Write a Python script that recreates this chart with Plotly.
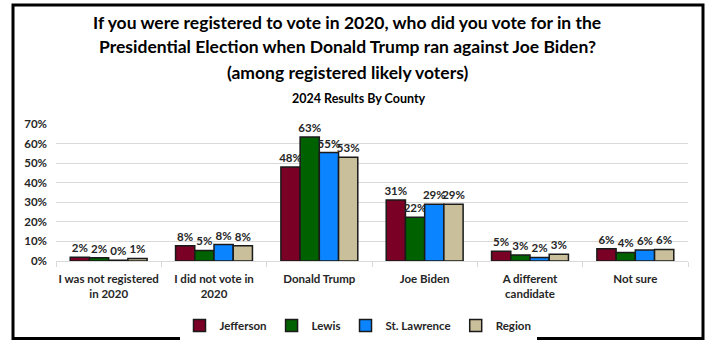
import plotly.graph_objects as go

categories = ["I was not registered<br>in 2020", "I did not vote in<br>2020", "Donald Trump",
              "Joe Biden", "A different<br>candidate", "Not sure"]
series_names = ["Jefferson", "Lewis", "St. Lawrence", "Region"]
jefferson = [1.9, 7.8, 48.0, 31.2, 5.0, 6.2]
lewis = [1.7, 5.4, 63.4, 22.4, 3.1, 4.4]
st_lawrence = [0.4, 8.4, 55.4, 29.0, 1.8, 5.6]
region = [1.3, 7.8, 53.0, 29.0, 3.4, 5.9]
labels_jefferson = ["2%", "8%", "48%", "31%", "5%", "6%"]
labels_lewis = ["2%", "5%", "63%", "22%", "3%", "4%"]
labels_st_lawrence = ["0%", "8%", "55%", "29%", "2%", "6%"]
labels_region = ["1%", "8%", "53%", "29%", "3%", "6%"]
y_ticks = [0, 10, 20, 30, 40, 50, 60, 70]
y_tick_labels = ["0%", "10%", "20%", "30%", "40%", "50%", "60%", "70%"]
title_lines = ["If you were registered to vote in 2020, who did you vote for in the",
               "Presidential Election when Donald Trump ran against Joe Biden?",
               "(among registered likely voters)"]
subtitle = "2024 Results By County"

colors = ["#7A0026", "#006100", "#0A84FF", "#C9BF9B"]
FONT = "Lato"
TXT = "#262626"

W, H = 709, 341
L, R, T, B = 56, 21, 124, 80
pw, ph = W - L - R, H - T - B


def px_to_py(py):
    return (H - B - py) / ph


def px_to_px(px):
    return (px - L) / pw


fig = go.Figure()
for name, vals, labs, col in zip(series_names,
                                 [jefferson, lewis, st_lawrence, region],
                                 [labels_jefferson, labels_lewis, labels_st_lawrence, labels_region],
                                 colors):
    fig.add_trace(go.Bar(
        name=name, x=categories, y=vals, text=labs, texttemplate="%{text}",
        textposition="outside", constraintext="none", cliponaxis=False,
        textfont=dict(family=FONT, size=11.5, color=TXT, weight="bold"),
        marker=dict(color=col, line=dict(color="#1a1a1a", width=1.5)),
    ))

# outer frame
fig.add_shape(type="rect", xref="paper", yref="paper",
              x0=px_to_px(13), x1=px_to_px(703),
              y0=px_to_py(338.5), y1=px_to_py(5),
              line=dict(color="black", width=3), fillcolor="rgba(0,0,0,0)", layer="above")

# title lines
for i, line in enumerate(title_lines):
    fig.add_annotation(text=line, xref="paper", yref="paper",
                       x=px_to_px(347), y=px_to_py(22 + 25 * i), xanchor="center", yanchor="middle",
                       showarrow=False,
                       font=dict(family=FONT, size=17.5, color="black", weight="bold"))
fig.add_annotation(text=subtitle, xref="paper", yref="paper",
                   x=px_to_px(359), y=px_to_py(98), xanchor="center", yanchor="middle",
                   showarrow=False,
                   font=dict(family=FONT, size=12.5, color="black", weight="bold"))

fig.update_layout(
    width=W, height=H, autosize=False,
    margin=dict(l=L, r=R, t=T, b=B, autoexpand=False),
    paper_bgcolor="white", plot_bgcolor="white",
    barmode="group", bargap=0.27, bargroupgap=0,
    font=dict(family=FONT, color=TXT),
    showlegend=True,
    legend=dict(orientation="h", x=px_to_px(358), xanchor="center", y=px_to_py(311), yanchor="top",
                font=dict(family=FONT, size=11.5, color=TXT, weight="bold"),
                itemwidth=30, tracegroupgap=0),
    xaxis=dict(tickfont=dict(family=FONT, size=11.5, color=TXT, weight="bold"),
               tickangle=0, automargin=False, ticklabelstandoff=7,
               showline=True, linecolor="#D9D9D9", linewidth=1,
               ticks="outside", tickson="boundaries", ticklen=5, tickcolor="#D9D9D9",
               showgrid=False),
    yaxis=dict(range=[0, 70], tickvals=y_ticks, ticktext=y_tick_labels, automargin=False,
               ticklabelstandoff=8,
               tickfont=dict(family=FONT, size=11.5, color=TXT, weight="bold"),
               showgrid=True, gridcolor="#D9D9D9", gridwidth=1, zeroline=False,
               showline=False, ticks=""),
)

fig.write_html("out.html", config={"displayModeBar": False},
               post_script="document.body.style.margin='0';document.body.style.overflow='hidden';")
